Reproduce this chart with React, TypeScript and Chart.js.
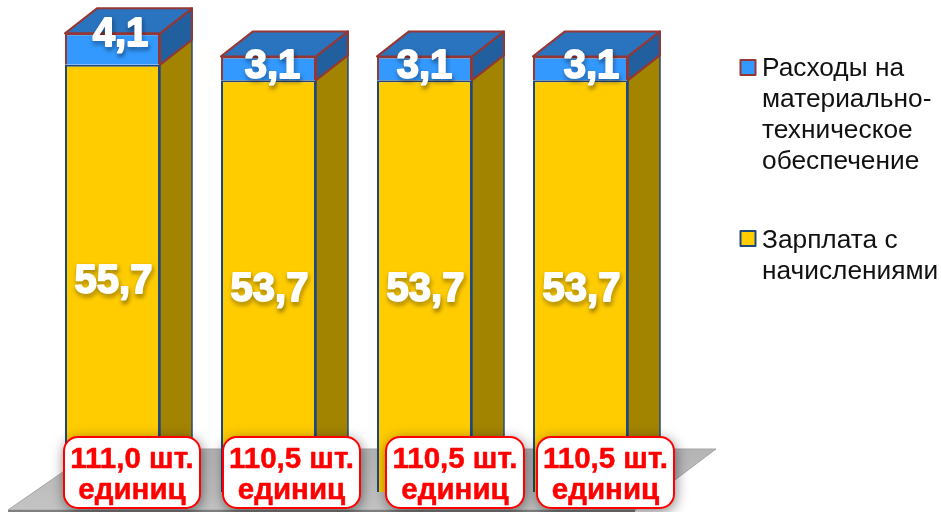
import React, { useEffect, useRef } from "react";
import { Chart, registerables } from "chart.js";

Chart.register(...registerables);

const categories = ["A", "B", "C", "D"];
const salary = [55.7, 53.7, 53.7, 53.7];
const materials = [4.1, 3.1, 3.1, 3.1];
const salaryLabels = ["55,7", "53,7", "53,7", "53,7"];
const materialLabels = ["4,1", "3,1", "3,1", "3,1"];
const unitLabels = ["111,0 шт.", "110,5 шт.", "110,5 шт.", "110,5 шт."];
const unitWord = "единиц";
const legendMaterials = ["Расходы на", "материально-", "техническое", "обеспечение"];
const legendSalary = ["Зарплата с", "начислениями"];

const FONT = '"Liberation Sans", Arial, sans-serif';
const DX = 32;
const DY = 25;

function poly(ctx: CanvasRenderingContext2D, pts: number[][], fill: any, stroke?: string, lw = 2) {
  ctx.beginPath();
  pts.forEach((p, i) => (i ? ctx.lineTo(p[0], p[1]) : ctx.moveTo(p[0], p[1])));
  ctx.closePath();
  ctx.fillStyle = fill;
  ctx.fill();
  if (stroke) {
    ctx.strokeStyle = stroke;
    ctx.lineWidth = lw;
    ctx.lineJoin = "round";
    ctx.stroke();
  }
}

const floorPlugin = {
  id: "floor",
  beforeDatasetsDraw(chart: any) {
    const ctx = chart.ctx;
    ctx.save();
    const floorGrad = ctx.createLinearGradient(0, 449, 0, 510);
    floorGrad.addColorStop(0, "#b4b4b4");
    floorGrad.addColorStop(1, "#c4c4c4");
    poly(ctx, [[96, 449], [716, 449], [635, 510], [8, 510]], floorGrad, "#a6a6a6", 1);
    ctx.fillStyle = "#808080";
    ctx.fillRect(8, 510, 627, 2);
    const meta0 = chart.getDatasetMeta(0);
    const meta1 = chart.getDatasetMeta(1);
    meta0.data.forEach((bar: any, i: number) => {
      const top = meta1.data[i];
      const r = bar.x + bar.width / 2;
      const grad = ctx.createLinearGradient(0, bar.base - 70, 0, bar.base);
      grad.addColorStop(0, "#a38400");
      grad.addColorStop(0.4, "#a38400");
      grad.addColorStop(1, "#5f4d00");
      poly(ctx, [[r, bar.base], [r + DX, bar.base - DY], [r + DX, bar.y - DY], [r, bar.y]], grad, "#2b4a73", 1.5);
      poly(ctx, [[r, bar.y], [r + DX, bar.y - DY], [r + DX, top.y - DY], [r, top.y]], "#215f9f", "#953735", 2);
      poly(ctx, [[top.x - top.width / 2, top.y], [top.x - top.width / 2 + DX, top.y - DY], [r + DX, top.y - DY], [r, top.y]], "#2a73bf", "#953735", 2);
    });
    ctx.restore();
  },
};

const labelPlugin = {
  id: "labels",
  afterDatasetsDraw(chart: any) {
    const ctx = chart.ctx;
    const meta0 = chart.getDatasetMeta(0);
    const meta1 = chart.getDatasetMeta(1);
    ctx.save();
    ctx.textAlign = "center";
    ctx.textBaseline = "middle";

    const shadowText = (t: string, x: number, y: number) => {
      ctx.font = `bold 40px ${FONT}`;
      ctx.lineJoin = "round";
      ctx.shadowColor = "rgba(0,0,0,0.6)";
      ctx.shadowBlur = 4;
      ctx.shadowOffsetX = 1;
      ctx.shadowOffsetY = 3;
      ctx.fillStyle = "#ffffff";
      ctx.strokeStyle = "#ffffff";
      ctx.lineWidth = 1.8;
      ctx.strokeText(t, x, y);
      ctx.shadowColor = "transparent";
      ctx.fillText(t, x, y);
    };

    meta0.data.forEach((bar: any, i: number) => {
      const mid = (bar.y + bar.base) / 2;
      shadowText(salaryLabels[i], bar.x + 1, mid + 4);
    });
    const topShiftX = [8, 4, 0, 11];
    meta1.data.forEach((bar: any, i: number) => {
      const mid = (bar.y + bar.base) / 2;
      shadowText(materialLabels[i], bar.x + topShiftX[i], i === 0 ? mid - 14 : mid - 1);
    });

    const boxShift = [-1, 2, 9, 4];
    const boxW = [136, 137, 138, 137];
    meta0.data.forEach((bar: any, i: number) => {
      const x = bar.x - bar.width / 2 + boxShift[i];
      const cx = x + boxW[i] / 2;
      const y = chart.scales.y.getPixelForValue(0) - 55;
      ctx.beginPath();
      ctx.roundRect(x, y, boxW[i], 71, 14);
      ctx.shadowColor = "rgba(0,0,0,0.55)";
      ctx.shadowBlur = 14;
      ctx.fillStyle = "#ffffff";
      ctx.fill();
      ctx.shadowColor = "transparent";
      ctx.strokeStyle = "#ff0000";
      ctx.lineWidth = 2;
      ctx.stroke();
      ctx.fillStyle = "#ff0000";
      ctx.strokeStyle = "#ff0000";
      ctx.lineWidth = 0.5;
      ctx.font = `bold 29.5px ${FONT}`;
      ctx.fillText(unitLabels[i], cx, y + 23);
      ctx.strokeText(unitLabels[i], cx, y + 23);
      ctx.fillText(unitWord, cx, y + 54);
      ctx.strokeText(unitWord, cx, y + 54);
    });

    const lx = 762;
    const drawLegend = (lines: string[], textY: number, boxY: number, fill: string, stroke: string) => {
      ctx.fillStyle = fill;
      ctx.fillRect(740.5, boxY - 7.5, 15, 15);
      ctx.strokeStyle = stroke;
      ctx.lineWidth = 2;
      ctx.strokeRect(740.5, boxY - 7.5, 15, 15);
      ctx.textAlign = "left";
      ctx.fillStyle = "#111111";
      ctx.font = `26.3px ${FONT}`;
      lines.forEach((l, i) => ctx.fillText(l, lx, textY + i * 31));
    };
    drawLegend(legendMaterials, 69, 67.5, "#3399ff", "#953735");
    drawLegend(legendSalary, 241, 238.5, "#ffcc00", "#1f497d");
    ctx.restore();
  },
};

export default function App() {
  const ref = useRef<HTMLCanvasElement>(null);
  useEffect(() => {
    document.body.style.margin = "0";
    document.body.style.background = "#ffffff";
    const chart = new Chart(ref.current!, {
      type: "bar",
      data: {
        labels: categories,
        datasets: [
          {
            label: "Зарплата с начислениями",
            data: salary,
            backgroundColor: "#ffcc00",
            borderColor: "#1f497d",
            borderWidth: 2,
            stack: "s",
          },
          {
            label: "Расходы на материально-техническое обеспечение",
            data: materials,
            backgroundColor: "#3399ff",
            borderColor: "#953735",
            borderWidth: 2,
            stack: "s",
          },
        ],
      },
      options: {
        responsive: false,
        animation: false,
        layout: { padding: { left: 34.5, right: 282.5, top: 16.5, bottom: 20 } },
        datasets: { bar: { barPercentage: 1, categoryPercentage: 0.609 } },
        plugins: { legend: { display: false }, tooltip: { enabled: false } },
        scales: {
          x: { display: false, stacked: true },
          y: { display: false, stacked: true, min: 0, max: 62 },
        },
      },
      plugins: [floorPlugin, labelPlugin],
    });
    return () => chart.destroy();
  }, []);
  return (
    <div style={{ width: 941, height: 512, overflow: "hidden" }}>
      <canvas ref={ref} width={941} height={512} style={{ display: "block" }} />
    </div>
  );
}
